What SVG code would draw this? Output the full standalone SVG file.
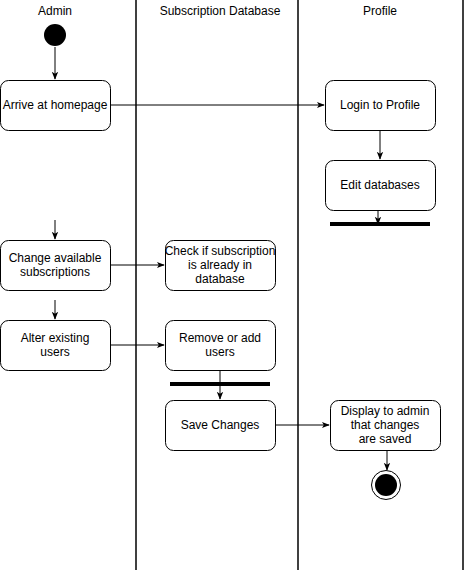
<svg xmlns="http://www.w3.org/2000/svg" width="465" height="573" viewBox="0 0 465 573">
<style>
text{font-family:"Liberation Sans",Arial,sans-serif;font-size:12px;fill:#000;text-anchor:middle;dominant-baseline:central}
.box{fill:#fff;stroke:#000;stroke-width:1}
.lane{stroke:#000;stroke-width:1.5;fill:none}
.c{stroke:#000;stroke-width:1;fill:none;marker-end:url(#arr)}
.bar{fill:#000}
</style>
<defs>
<marker id="arr" viewBox="0 0 10 10" refX="9" refY="5" markerWidth="8" markerHeight="8" markerUnits="userSpaceOnUse" orient="auto">
<path d="M0,1 L10,5 L0,9 L2.5,5 z" fill="#000"/>
</marker>
</defs>
<rect width="465" height="573" fill="#fff"/>
<g id="lanes">
<line class="lane" x1="136" y1="0" x2="136" y2="570"/>
<line class="lane" x1="298" y1="0" x2="298" y2="570"/>
<line class="lane" x1="463" y1="0" x2="463" y2="570"/>
<text x="55" y="11">Admin</text>
<text x="220" y="11">Subscription Database</text>
<text x="380" y="11">Profile</text>
</g>
<g id="connectors">
<line class="c" x1="55" y1="47" x2="55" y2="79"/>
<line class="c" x1="110" y1="105" x2="324" y2="105"/>
<line class="c" x1="380" y1="130" x2="380" y2="159"/>
<line class="c" x1="378" y1="210" x2="378" y2="224"/>
<line class="c" x1="55" y1="220" x2="55" y2="239"/>
<line class="c" x1="110" y1="265" x2="164" y2="265"/>
<line class="c" x1="55" y1="300" x2="55" y2="319"/>
<line class="c" x1="110" y1="345" x2="164" y2="345"/>
<line class="c" x1="220" y1="370" x2="220" y2="399"/>
<line class="c" x1="275" y1="425" x2="329" y2="425"/>
<line class="c" x1="387" y1="450" x2="387" y2="470"/>
</g>
<g id="start"><circle cx="55" cy="35" r="11" fill="#000"/></g>
<g id="arrive"><rect class="box" x="0.5" y="80.5" width="110" height="50" rx="8"/><text x="55" y="105">Arrive at homepage</text></g>
<g id="login"><rect class="box" x="325.5" y="80.5" width="110" height="50" rx="8"/><text x="380" y="105">Login to Profile</text></g>
<g id="edit"><rect class="box" x="325.5" y="160.5" width="110" height="50" rx="8"/><text x="380" y="185">Edit databases</text></g>
<g id="bar1"><rect class="bar" x="330" y="222" width="100" height="4"/></g>
<g id="change"><rect class="box" x="0.5" y="240.5" width="110" height="50" rx="8"/><text x="55" y="258">Change available</text><text x="55" y="272">subscriptions</text></g>
<g id="check"><rect class="box" x="165.5" y="240.5" width="110" height="50" rx="8"/><text x="220" y="251">Check if subscription</text><text x="220" y="265">is already in</text><text x="220" y="279">database</text></g>
<g id="alter"><rect class="box" x="0.5" y="320.5" width="110" height="50" rx="8"/><text x="55" y="338">Alter existing</text><text x="55" y="352">users</text></g>
<g id="remove"><rect class="box" x="165.5" y="320.5" width="110" height="50" rx="8"/><text x="220" y="338">Remove or add</text><text x="220" y="352">users</text></g>
<g id="bar2"><rect class="bar" x="170" y="382" width="100" height="4"/></g>
<g id="save"><rect class="box" x="165.5" y="400.5" width="110" height="50" rx="8"/><text x="220" y="425">Save Changes</text></g>
<g id="display"><rect class="box" x="330.5" y="400.5" width="110" height="50" rx="8"/><text x="385" y="411">Display to admin</text><text x="385" y="425">that changes</text><text x="385" y="439">are saved</text></g>
<g id="end"><circle cx="386" cy="485" r="14.5" fill="#fff" stroke="#000" stroke-width="1"/><circle cx="386" cy="485" r="11" fill="#000"/></g>
</svg>
